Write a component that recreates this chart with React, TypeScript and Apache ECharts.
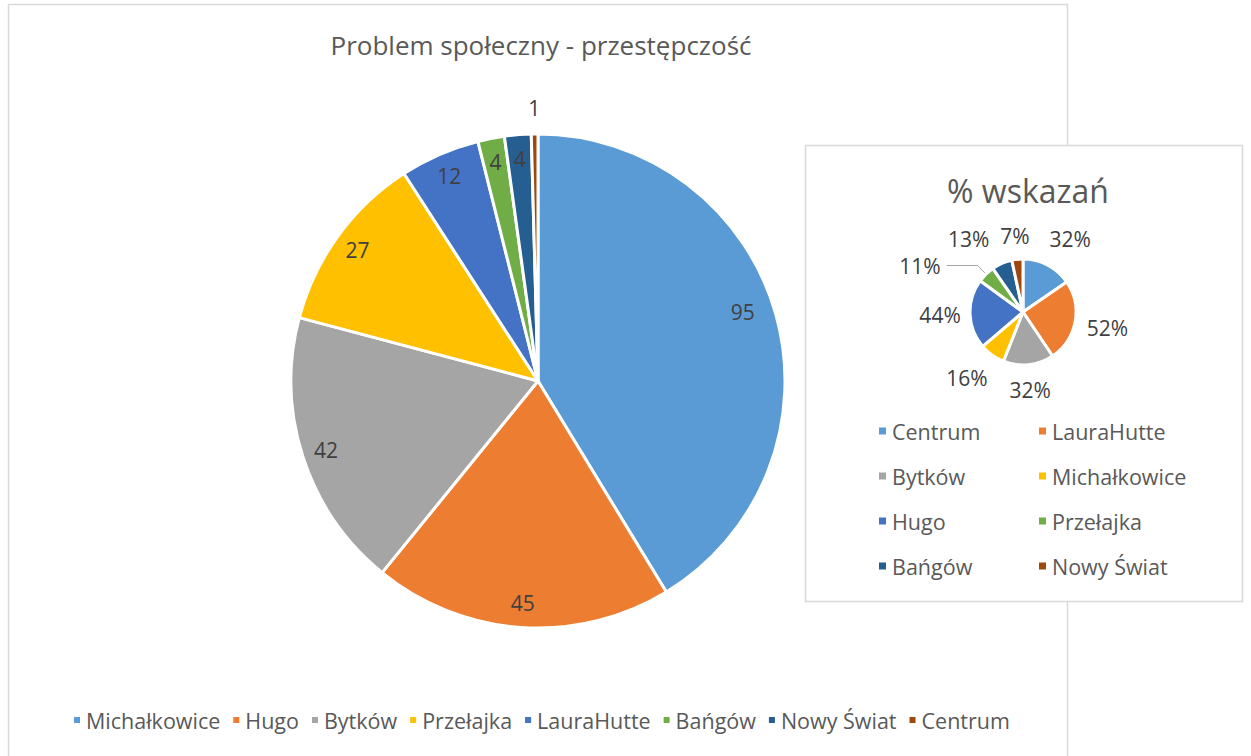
import React, { useEffect, useRef } from 'react';
import * as echarts from 'echarts';

const mainTitle = 'Problem społeczny - przestępczość';
const mainCategories = ['Michałkowice', 'Hugo', 'Bytków', 'Przełajka', 'LauraHutte', 'Bańgów', 'Nowy Świat', 'Centrum'];
const mainValues = [95, 45, 42, 27, 12, 4, 4, 1];

const insetTitle = '% wskazań';
const insetCategories = ['Centrum', 'LauraHutte', 'Bytków', 'Michałkowice', 'Hugo', 'Przełajka', 'Bańgów', 'Nowy Świat'];
const insetValues = [32, 52, 32, 16, 44, 11, 13, 7];
const insetLegendCol1 = ['Centrum', 'Bytków', 'Hugo', 'Bańgów'];
const insetLegendCol2 = ['LauraHutte', 'Michałkowice', 'Przełajka', 'Nowy Świat'];

const palette = ['#5B9BD5', '#ED7D31', '#A5A5A5', '#FFC000', '#4472C4', '#70AD47', '#255E91', '#9E480E'];

const FONT = "'Open Sans', 'Noto Sans', sans-serif";
const TEXT = '#595959';
const LABEL = '#404040';

export default function App() {
  const ref = useRef<HTMLDivElement>(null);
  useEffect(() => {
    if (!ref.current) return;
    const chart = echarts.init(ref.current, null, { renderer: 'svg' });

    const mainCenter = [538, 381];
    const mainR = 247;
    const insetCenter = [1023, 312];
    const insetR = 53;

    const mainData = mainCategories.map((n, i) => ({
      name: n,
      value: mainValues[i],
      itemStyle: { color: palette[i] },
    }));
    // labels drawn inside near the rim
    const mainLabelData = mainCategories.map((n, i) => {
      const item: any = { name: 'ml:' + n, value: mainValues[i] };
      if (n === 'Centrum') item.label = { show: false };
      return item;
    });
    // labels drawn just outside the rim (tiny slice)
    const mainOuterLabelData = mainCategories.map((n, i) => ({
      name: 'mo:' + n,
      value: mainValues[i],
      label: { show: n === 'Centrum' },
    }));
    const insetData = insetCategories.map((n, i) => {
      const item: any = { name: 'i:' + n, value: insetValues[i], itemStyle: { color: palette[i] } };
      if (n === 'Przełajka') {
        item.label = { show: true };
        item.labelLine = { show: true };
      }
      return item;
    });
    const insetLabelData = insetCategories.map((n, i) => {
      const item: any = { name: 'il:' + n, value: insetValues[i] };
      if (n === 'Przełajka') item.label = { show: false };
      return item;
    });

    const legendCommon = {
      selectedMode: false,
      icon: 'rect',
      itemWidth: 9,
      itemHeight: 9,
      itemGap: 12,
      textStyle: { fontFamily: FONT, fontSize: 21.5, color: TEXT },
    };
    const strip = (n: string) => n.replace(/^[a-z]+:/, '');
    const transparent = { color: 'rgba(0,0,0,0)', borderWidth: 0 };
    const insetNudges: Record<number, { dx: number; dy: number }> = {
      0: { dx: 7, dy: 3 },
      2: { dx: -2, dy: -8 },
      3: { dx: -6, dy: -4 },
      4: { dx: 3, dy: 0 },
      6: { dx: -20, dy: 6 },
      7: { dx: 1, dy: 10 },
    };

    chart.setOption({
      animation: false,
      backgroundColor: '#ffffff',
      textStyle: { fontFamily: FONT },
      title: [
        {
          text: mainTitle,
          left: 536,
          top: 27,
          textAlign: 'center',
          textStyle: { fontFamily: FONT, fontSize: 26, fontWeight: 'normal', color: TEXT },
        },
        {
          text: insetTitle,
          left: 1023,
          top: 169,
          textAlign: 'center',
          textStyle: { fontFamily: FONT, fontSize: 32, fontWeight: 'normal', color: TEXT },
        },
      ],
      graphic: [
        {
          type: 'rect',
          z: 0,
          shape: { x: 8.5, y: 4.5, width: 1059, height: 800 },
          style: { fill: '#ffffff', stroke: '#D9D9D9', lineWidth: 1.5 },
        },
        {
          type: 'rect',
          z: 1,
          shape: { x: 805.5, y: 145.5, width: 437, height: 456 },
          style: { fill: '#ffffff', stroke: '#D9D9D9', lineWidth: 1.5 },
        },
      ],
      legend: [
        {
          ...legendCommon,
          data: mainCategories,
          orient: 'horizontal',
          left: 67,
          top: 704,
          itemGap: 11,
          itemWidth: 8,
          itemHeight: 8,
        },
        {
          ...legendCommon,
          data: insetLegendCol1.map((x) => 'i:' + x),
          formatter: strip,
          orient: 'vertical',
          left: 872,
          top: 415,
          itemGap: 23,
        },
        {
          ...legendCommon,
          data: insetLegendCol2.map((x) => 'i:' + x),
          formatter: strip,
          orient: 'vertical',
          left: 1032,
          top: 415,
          itemGap: 23,
        },
      ],
      series: [
        {
          type: 'pie',
          name: 'main',
          center: mainCenter,
          radius: mainR,
          startAngle: 90,
          clockwise: true,
          silent: true,
          z: 2,
          label: { show: false },
          labelLine: { show: false },
          itemStyle: { borderColor: '#ffffff', borderWidth: 3 },
          data: mainData,
        },
        {
          type: 'pie',
          name: 'mainLabels',
          center: mainCenter,
          radius: [193, mainR],
          startAngle: 90,
          clockwise: true,
          silent: true,
          z: 3,
          avoidLabelOverlap: false,
          itemStyle: transparent,
          label: {
            show: true,
            position: 'inside',
            formatter: '{c}',
            fontFamily: FONT,
            fontSize: 21,
            color: LABEL,
          },
          labelLine: { show: false },
          labelLayout: (p: any) => (p.dataIndex === 0 ? { dx: -10, dy: -9, hideOverlap: false } : { hideOverlap: false }),
          data: mainLabelData,
        },
        {
          type: 'pie',
          name: 'mainOuterLabels',
          center: mainCenter,
          radius: [257, 283],
          startAngle: 90,
          clockwise: true,
          silent: true,
          z: 3,
          avoidLabelOverlap: false,
          itemStyle: transparent,
          label: {
            position: 'inside',
            formatter: '{c}',
            fontFamily: FONT,
            fontSize: 21,
            color: LABEL,
          },
          labelLine: { show: false },
          labelLayout: { hideOverlap: false },
          data: mainOuterLabelData,
        },
        {
          type: 'pie',
          name: 'inset',
          center: insetCenter,
          radius: insetR,
          startAngle: 90,
          clockwise: true,
          silent: true,
          z: 3,
          avoidLabelOverlap: false,
          itemStyle: { borderColor: '#ffffff', borderWidth: 3 },
          label: {
            show: false,
            position: 'outside',
            formatter: '{c}%',
            fontFamily: FONT,
            fontSize: 21,
            color: LABEL,
            distanceToLabelLine: 6,
          },
          labelLine: {
            show: false,
            length: 12,
            length2: 31,
            lineStyle: { color: '#A6A6A6', width: 1 },
          },
          data: insetData,
        },
        {
          type: 'pie',
          name: 'insetLabels',
          center: insetCenter,
          radius: [70, 96],
          startAngle: 90,
          clockwise: true,
          silent: true,
          z: 4,
          avoidLabelOverlap: false,
          itemStyle: transparent,
          label: {
            show: true,
            position: 'inside',
            formatter: '{c}%',
            fontFamily: FONT,
            fontSize: 21,
            color: LABEL,
          },
          labelLine: { show: false },
          labelLayout: (p: any) => {
            const n = insetNudges[p.dataIndex];
            return n ? { dx: n.dx, dy: n.dy, hideOverlap: false } : { hideOverlap: false };
          },
          data: insetLabelData,
        },
      ],
    });
    return () => chart.dispose();
  }, []);
  return (
    <div
      ref={ref}
      style={{ position: 'absolute', left: 0, top: 0, width: 1251, height: 756 }}
    />
  );
}
